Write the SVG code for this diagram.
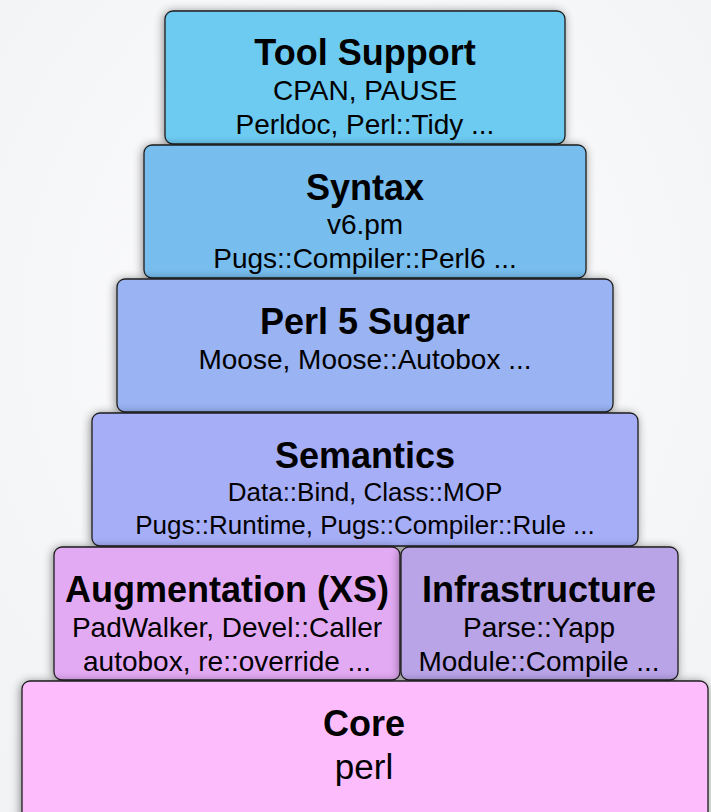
<svg xmlns="http://www.w3.org/2000/svg" width="711" height="812" viewBox="0 0 711 812">
  <defs>
    <radialGradient id="bg" cx="0.5" cy="0.4" r="0.8">
      <stop offset="0" stop-color="#fdfdfe"/>
      <stop offset="1" stop-color="#f1f2f4"/>
    </radialGradient>
    <filter id="shadow" x="-10%" y="-10%" width="120%" height="120%">
      <feDropShadow dx="-1" dy="1" stdDeviation="5" flood-color="#000" flood-opacity="0.45"/>
    </filter>
  </defs>
  <style>
    .box { stroke: #1e1e1e; stroke-width: 1.3; filter: url(#shadow); }
    .title { font-family: "Liberation Sans", Arial, sans-serif; font-weight: bold; font-size: 36px; fill: #000; text-anchor: middle; }
    .sub { font-family: "Liberation Sans", Arial, sans-serif; font-size: 28px; fill: #000; text-anchor: middle; }
    .sub.small { font-size: 26px; }
    .sub.big { font-size: 35px; }
  </style>

  <rect width="711" height="812" fill="url(#bg)"/>

  <!-- layers, top of the stack first -->
  <g id="tool-support">
    <rect class="box" x="165" y="11" width="400" height="133" rx="8" fill="#6dcbf2"/>
    <text class="title" x="365" y="65">Tool Support</text>
    <text class="sub" x="365" y="100">CPAN, PAUSE</text>
    <text class="sub" x="365" y="134">Perldoc, Perl::Tidy ...</text>
  </g>

  <g id="syntax">
    <rect class="box" x="144" y="145" width="442" height="133" rx="8" fill="#77bdee"/>
    <text class="title" x="365" y="200">Syntax</text>
    <text class="sub" x="365" y="234">v6.pm</text>
    <text class="sub" x="365" y="268">Pugs::Compiler::Perl6 ...</text>
  </g>

  <g id="perl5-sugar">
    <rect class="box" x="117" y="279" width="496" height="133" rx="8" fill="#99b3f3"/>
    <text class="title" x="365" y="334">Perl 5 Sugar</text>
    <text class="sub" x="365" y="369">Moose, Moose::Autobox ...</text>
  </g>

  <g id="semantics">
    <rect class="box" x="92" y="413" width="546" height="133" rx="8" fill="#a7aef8"/>
    <text class="title" x="365" y="468">Semantics</text>
    <text class="sub small" x="365" y="501">Data::Bind, Class::MOP</text>
    <text class="sub small" x="365" y="534">Pugs::Runtime, Pugs::Compiler::Rule ...</text>
  </g>

  <g id="augmentation">
    <rect class="box" x="54" y="547" width="346" height="133" rx="8" fill="#e3aaf4"/>
    <text class="title" x="227" y="602">Augmentation (XS)</text>
    <text class="sub" x="227" y="637">PadWalker, Devel::Caller</text>
    <text class="sub" x="227" y="671">autobox, re::override ...</text>
  </g>

  <g id="infrastructure">
    <rect class="box" x="401" y="547" width="277" height="133" rx="8" fill="#b9a4e8"/>
    <text class="title" x="539" y="602">Infrastructure</text>
    <text class="sub" x="539" y="637">Parse::Yapp</text>
    <text class="sub" x="539" y="671">Module::Compile ...</text>
  </g>

  <g id="core">
    <rect class="box" x="22" y="681" width="686" height="145" rx="8" fill="#fdbdfd"/>
    <text class="title" x="364" y="736">Core</text>
    <text class="sub big" x="364" y="779">perl</text>
  </g>

  <g id="connectors"/>
</svg>
